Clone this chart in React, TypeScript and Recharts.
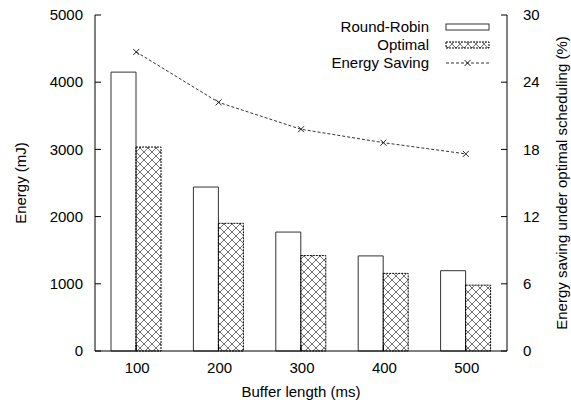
import { Bar, Line, XAxis, YAxis, Legend, ComposedChart } from "recharts";

const categories = ["100", "200", "300", "400", "500"];
const roundRobin = [4150, 2440, 1770, 1415, 1195];
const optimal = [3035, 1900, 1420, 1155, 980];
const saving = [26.7, 22.2, 19.8, 18.6, 17.6];
const energyTicks = [0, 1000, 2000, 3000, 4000, 5000];
const savingTicks = [0, 6, 12, 18, 24, 30];

const data = categories.map((c, i) => ({
  name: c,
  rr: roundRobin[i],
  opt: optimal[i],
  saving: saving[i],
}));

// plot frame (pixels)
const PL = 95;
const PR = 507;
const PT = 15;
const PB = 351;
const FONT = "'Liberation Sans', Arial, Helvetica, sans-serif";
const FS = 15;

const LeftTick = ({ y, payload }: any) => (
  <g>
    <line x1={PL} x2={PL + 6} y1={y} y2={y} stroke="#000" />
    <text x={PL - 12} y={y} dy="0.35em" textAnchor="end" fontSize={FS} fontFamily={FONT} fill="#000">
      {payload.value}
    </text>
  </g>
);

const RightTick = ({ y, payload }: any) => (
  <g>
    <line x1={PR - 6} x2={PR} y1={y} y2={y} stroke="#000" />
    <text x={PR + 16} y={y} dy="0.35em" textAnchor="start" fontSize={FS} fontFamily={FONT} fill="#000">
      {payload.value}
    </text>
  </g>
);

const BottomTick = ({ x, payload }: any) => (
  <g>
    <line x1={x} x2={x} y1={PB} y2={PB - 6} stroke="#000" />
    <text x={x + 1} y={PB + 17} dy="0.35em" textAnchor="middle" fontSize={FS} fontFamily={FONT} fill="#000">
      {payload.value}
    </text>
  </g>
);

const TopTick = ({ x }: any) => <line x1={x} x2={x} y1={PT} y2={PT + 6} stroke="#000" />;

const Cross = ({ cx, cy }: any) => {
  if (cx == null || cy == null) return null;
  const s = 3;
  return (
    <g stroke="#222" strokeWidth={1}>
      <line x1={cx - s} y1={cy - s} x2={cx + s} y2={cy + s} />
      <line x1={cx - s} y1={cy + s} x2={cx + s} y2={cy - s} />
    </g>
  );
};

const legendRows = [
  { label: "Round-Robin", kind: "rr" },
  { label: "Optimal", kind: "opt" },
  { label: "Energy Saving", kind: "line" },
];

const LegendBox = () => (
  <div style={{ position: "relative", width: 0, height: 0 }}>
    <svg width={571} height={404} style={{ position: "absolute", left: 0, top: 0, pointerEvents: "none" }}>
      {legendRows.map((r, i) => {
        const cy = 27 + i * 18;
        return (
          <g key={r.kind}>
            <text x={429} y={cy} dy="0.35em" textAnchor="end" fontSize={FS} fontFamily={FONT} fill="#000">
              {r.label}
            </text>
            {r.kind === "rr" && <rect x={446} y={cy - 3} width={43} height={6} fill="#fff" stroke="#333" />}
            {r.kind === "opt" && (
              <rect x={446} y={cy - 3} width={43} height={6} fill="url(#xhatch)" stroke="#000" strokeDasharray="2 1" />
            )}
            {r.kind === "line" && (
              <g>
                <line x1={446} x2={489} y1={cy} y2={cy} stroke="#333" strokeDasharray="3 2" />
                <Cross cx={467.5} cy={cy} />
              </g>
            )}
          </g>
        );
      })}
      <defs>
        <pattern id="xhatch" width={8} height={8} patternUnits="userSpaceOnUse">
          <path d="M0,0 L8,8 M8,0 L0,8" stroke="#333" strokeWidth={0.7} />
        </pattern>
      </defs>
    </svg>
  </div>
);

export default function App() {
  return (
    <div style={{ position: "absolute", left: 0, top: 0, background: "#fff" }}>
      <ComposedChart
        width={571}
        height={404}
        data={data}
        margin={{ top: PT, right: 0, bottom: 0, left: 0 }}
        barSize={25}
        barGap={0}
      >
        <defs>
          <pattern id="xhatchBar" width={8} height={8} patternUnits="userSpaceOnUse">
            <path d="M0,0 L8,8 M8,0 L0,8" stroke="#333" strokeWidth={0.7} />
          </pattern>
        </defs>
        <XAxis
          dataKey="name"
          height={404 - PB}
          axisLine={{ stroke: "#000" }}
          tickLine={false}
          tickSize={0}
          tick={<BottomTick />}
          label={() => (
            <text x={(PL + PR) / 2} y={392} dy="0.35em" textAnchor="middle" fontSize={FS} fontFamily={FONT} fill="#000">
              Buffer length (ms)
            </text>
          )}
        />
        <XAxis
          xAxisId="top"
          dataKey="name"
          orientation="top"
          height={0}
          axisLine={{ stroke: "#000" }}
          tickLine={false}
          tickSize={0}
          tick={<TopTick />}
        />
        <YAxis
          yAxisId="left"
          width={PL}
          domain={[0, 5000]}
          ticks={energyTicks}
          axisLine={{ stroke: "#000" }}
          tickLine={false}
          tickSize={0}
          tick={<LeftTick />}
          label={() => (
            <text
              x={21}
              y={(PT + PB) / 2}
              dy="0.35em"
              textAnchor="middle"
              transform={`rotate(-90, 21, ${(PT + PB) / 2})`}
              fontSize={FS}
              fontFamily={FONT}
              fill="#000"
            >
              Energy (mJ)
            </text>
          )}
        />
        <YAxis
          yAxisId="right"
          orientation="right"
          width={571 - PR}
          domain={[0, 30]}
          ticks={savingTicks}
          axisLine={{ stroke: "#000" }}
          tickLine={false}
          tickSize={0}
          tick={<RightTick />}
          label={() => (
            <text
              x={562}
              y={(PT + PB) / 2}
              dy="0.35em"
              textAnchor="middle"
              transform={`rotate(-90, 562, ${(PT + PB) / 2})`}
              fontSize={FS}
              fontFamily={FONT}
              fill="#000"
            >
              Energy saving under optimal scheduling (%)
            </text>
          )}
        />
        <Legend content={<LegendBox />} wrapperStyle={{ left: 0, top: 0, width: 0, height: 0 }} />
        <Bar dataKey="rr" yAxisId="left" fill="#fff" stroke="#333" strokeWidth={1} isAnimationActive={false} />
        <Bar
          dataKey="opt"
          yAxisId="left"
          fill="url(#xhatchBar)"
          stroke="#000"
          strokeDasharray="2 1"
          strokeWidth={1}
          isAnimationActive={false}
        />
        <Line
          dataKey="saving"
          yAxisId="right"
          type="linear"
          stroke="#333"
          strokeWidth={1}
          strokeDasharray="3 2"
          dot={<Cross />}
          activeDot={false}
          isAnimationActive={false}
        />
      </ComposedChart>
    </div>
  );
}
